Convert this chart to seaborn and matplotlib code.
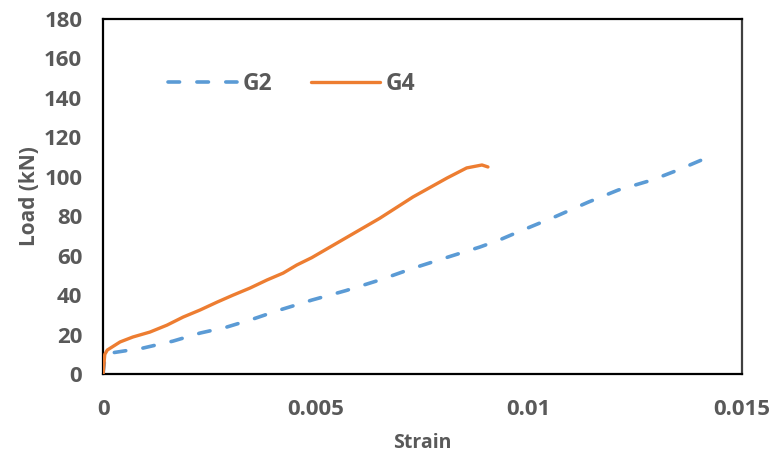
import matplotlib
matplotlib.use("Agg")
import matplotlib.pyplot as plt
import seaborn as sns
import pandas as pd

# ---- data ----
g2_strain = [0.0, 0.00005, 0.00016, 0.00094, 0.00164, 0.00228, 0.0029, 0.00352, 0.00415,
             0.00462, 0.0049, 0.0057, 0.0065, 0.0073, 0.0081, 0.00885, 0.0093, 0.0098,
             0.0106, 0.0114, 0.0121, 0.0129, 0.0135, 0.0140, 0.0142]
g2_load = [0.0, 9.8, 10.6, 13.2, 16.7, 20.8, 23.8, 27.9, 32.5,
           35.6, 37.5, 42.3, 47.7, 53.8, 59.3, 64.4, 67.9, 72.5,
           79.6, 87.2, 93.3, 98.4, 103.4, 108.0, 109.8]

g4_strain = [0.0, 0.00002, 0.00004, 0.0001, 0.0004, 0.0007, 0.0011, 0.0015, 0.00188,
             0.00228, 0.00268, 0.00305, 0.00345, 0.00385, 0.00423, 0.00455, 0.0049,
             0.0057, 0.0065, 0.00728, 0.00808, 0.00854, 0.0089, 0.00904]
g4_load = [0.0, 5.0, 10.0, 12.2, 16.3, 18.8, 21.3, 24.8, 28.9,
           32.5, 36.5, 40.0, 43.6, 47.7, 51.2, 55.3, 59.0,
           69.0, 79.0, 89.8, 99.4, 104.5, 106.0, 105.0]

series_names = ["G2", "G4"]
x_ticks = [0, 0.005, 0.01, 0.015]
x_tick_labels = ["0", "0.005", "0.01", "0.015"]
y_ticks = [0, 20, 40, 60, 80, 100, 120, 140, 160, 180]

df = pd.concat([
    pd.DataFrame({"Strain": g2_strain, "Load": g2_load, "Specimen": series_names[0]}),
    pd.DataFrame({"Strain": g4_strain, "Load": g4_load, "Specimen": series_names[1]}),
], ignore_index=True)

sns.set_style("white")
plt.rcParams["font.family"] = ["Open Sans", "DejaVu Sans"]
plt.rcParams["font.weight"] = "bold"

text_col = "#595959"
fig = plt.figure(figsize=(7.75, 4.59), dpi=100)
ax = fig.add_axes([0.133, 0.185, 0.824, 0.7736])

palette = {"G2": "#5B9BD5", "G4": "#ED7D31"}
sns.lineplot(data=df, x="Strain", y="Load", hue="Specimen", palette=palette,
             sort=False, estimator=None, ax=ax, legend=False)

lines = ax.get_lines()
l2, l4 = lines[0], lines[1]
l2.set_linewidth(2.6)
l2.set_dashes([3.2, 4.8])
l2.set_dash_capstyle("round")
l4.set_linewidth(2.4)
l4.set_solid_capstyle("round")
l4.set_solid_joinstyle("round")
l4.set_zorder(3)

ax.set_xlim(0, 0.015)
ax.set_ylim(0, 180)
ax.set_xticks(x_ticks)
ax.set_xticklabels(x_tick_labels)
ax.set_yticks(y_ticks)

for s in ax.spines.values():
    s.set_color("black")
    s.set_linewidth(1.6)
ax.spines["right"].set_color("#404040")

ax.tick_params(axis="both", direction="out", length=6, width=1.6, color="black",
               labelsize=16, labelcolor=text_col)
ax.tick_params(axis="x", pad=12)
ax.tick_params(axis="y", pad=9)
for lab in ax.get_xticklabels() + ax.get_yticklabels():
    lab.set_fontweight("bold")

ax.set_xlabel("Strain", fontsize=14, fontweight="bold", color=text_col, labelpad=9)
ax.set_ylabel("Load (kN)", fontsize=15, fontweight="bold", color=text_col, labelpad=3)

leg = ax.legend([l2, l4], series_names, ncol=2, frameon=False,
                loc="center left", bbox_to_anchor=(0.102, 0.817),
                borderpad=0, borderaxespad=0, handlelength=3.0, handletextpad=0.25,
                columnspacing=1.7, prop={"size": 16.5, "weight": "bold"})
for t in leg.get_texts():
    t.set_color(text_col)

fig.savefig("out.png", dpi=100)
